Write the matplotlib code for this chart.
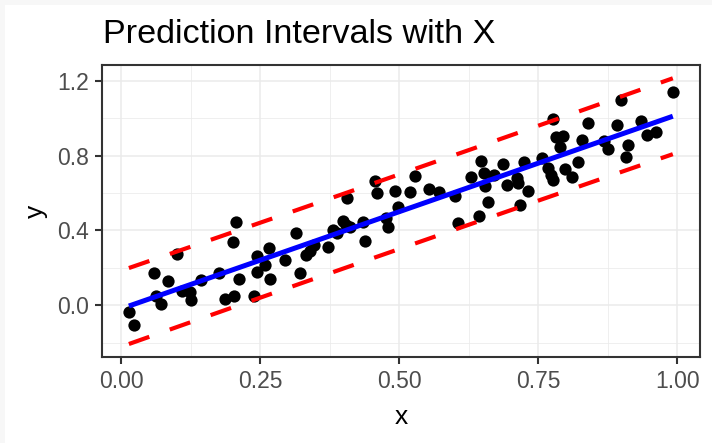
"""Scatter of y against x with the OLS fit and 95% prediction intervals."""
import numpy as np
import matplotlib; matplotlib.use("Agg")
import matplotlib.pyplot as plt
from matplotlib.ticker import MultipleLocator

plt.rcParams["font.family"] = ["Liberation Sans", "DejaVu Sans"]

x = np.array([0.014, 0.024, 0.059, 0.062, 0.071, 0.085, 0.100, 0.109, 0.123, 0.126,
              0.144, 0.176, 0.187, 0.203, 0.202, 0.206, 0.212, 0.239, 0.245, 0.245,
              0.258, 0.267, 0.266, 0.294, 0.314, 0.322, 0.333, 0.340, 0.346, 0.372,
              0.381, 0.388, 0.399, 0.405, 0.412, 0.406, 0.435, 0.439, 0.456, 0.460,
              0.477, 0.480, 0.493, 0.498, 0.519, 0.529, 0.553, 0.572, 0.601, 0.605,
              0.629, 0.643, 0.647, 0.653, 0.655, 0.659, 0.671, 0.687, 0.693, 0.711,
              0.713, 0.724, 0.732, 0.717, 0.757, 0.767, 0.773, 0.777, 0.777, 0.782,
              0.794, 0.789, 0.798, 0.811, 0.821, 0.828, 0.840, 0.868, 0.876, 0.892,
              0.898, 0.912, 0.907, 0.935, 0.946, 0.962, 0.992])
y = np.array([-0.035, -0.105, 0.175, 0.052, 0.005, 0.131, 0.276, 0.075, 0.070, 0.031,
              0.136, 0.175, 0.035, 0.052, 0.340, 0.445, 0.140, 0.049, 0.262, 0.178,
              0.213, 0.140, 0.305, 0.244, 0.387, 0.173, 0.270, 0.288, 0.323, 0.311,
              0.401, 0.384, 0.453, 0.427, 0.418, 0.575, 0.445, 0.345, 0.666, 0.601,
              0.468, 0.418, 0.610, 0.523, 0.607, 0.689, 0.622, 0.607, 0.584, 0.439,
              0.684, 0.480, 0.771, 0.706, 0.637, 0.554, 0.698, 0.758, 0.645, 0.680,
              0.654, 0.767, 0.610, 0.537, 0.790, 0.732, 0.698, 0.672, 0.997, 0.898,
              0.907, 0.846, 0.729, 0.684, 0.767, 0.886, 0.973, 0.876, 0.834, 0.964,
              1.098, 0.855, 0.793, 0.985, 0.910, 0.928, 1.140])

# ordinary least squares and prediction band
n = x.size
slope, icpt = np.polyfit(x, y, 1)
resid = y - (icpt + slope * x)
s = np.sqrt((resid ** 2).sum() / (n - 2))
t975 = 1.988
xs = np.sort(x)
fit = icpt + slope * xs
half = t975 * s * np.sqrt(1 + 1 / n + (xs - x.mean()) ** 2 / ((x - x.mean()) ** 2).sum())
lwr, upr = fit - half, fit + half

fig = plt.figure(figsize=(7.12, 4.43), dpi=100)
fig.patch.set_facecolor("#F7F7F7")
fig.add_artist(plt.Rectangle((5 / 712, 0), 1, 1 - 5 / 443, transform=fig.transFigure,
                             facecolor="white", edgecolor="none", zorder=-10))
ax = fig.add_axes([101.7 / 712, 1 - 357.3 / 443, (700 - 101.7) / 712, (357.3 - 65) / 443])

ax.scatter(x, y, s=78, color="black", linewidths=0, zorder=3)
ax.plot(xs, fit, color="#0000FF", lw=3.6, solid_capstyle="butt", zorder=4)
for band in (upr, lwr):
    ax.plot(xs, band, color="#FF0000", lw=3.0, dashes=(5.2, 5.2),
            dash_capstyle="butt", zorder=5)

xr = x.max() - x.min()
ax.set_xlim(x.min() - 0.05 * xr, x.max() + 0.05 * xr)
ylo, yhi = min(y.min(), lwr.min()), max(y.max(), upr.max())
yr = yhi - ylo
ax.set_ylim(ylo - 0.05 * yr, yhi + 0.05 * yr)

ax.xaxis.set_major_locator(MultipleLocator(0.25))
ax.xaxis.set_minor_locator(MultipleLocator(0.125))
ax.yaxis.set_major_locator(MultipleLocator(0.4))
ax.yaxis.set_minor_locator(MultipleLocator(0.2))
ax.set_xticks([0, 0.25, 0.5, 0.75, 1.0], ["0.00", "0.25", "0.50", "0.75", "1.00"])
ax.set_yticks([0.0, 0.4, 0.8, 1.2], ["0.0", "0.4", "0.8", "1.2"])

ax.grid(True, which="major", color="#EBEBEB", lw=1.1, zorder=0)
ax.grid(True, which="minor", color="#EBEBEB", lw=0.55, zorder=0)
ax.set_axisbelow(True)
for sp in ax.spines.values():
    sp.set_color("#333333"); sp.set_linewidth(1.5)
ax.tick_params(which="major", length=5, width=1.5, color="#333333",
               labelcolor="#4D4D4D", labelsize=16.5, pad=4.5)
ax.tick_params(which="minor", length=0)

ax.set_xlabel("x", fontsize=19, labelpad=8)
ax.set_ylabel("y", fontsize=19, labelpad=6)
fig.text(103 / 712, 1 - 42.7 / 443, "Prediction Intervals with X", fontsize=24.6,
         ha="left", va="baseline")

fig.savefig("out.png", dpi=100)
